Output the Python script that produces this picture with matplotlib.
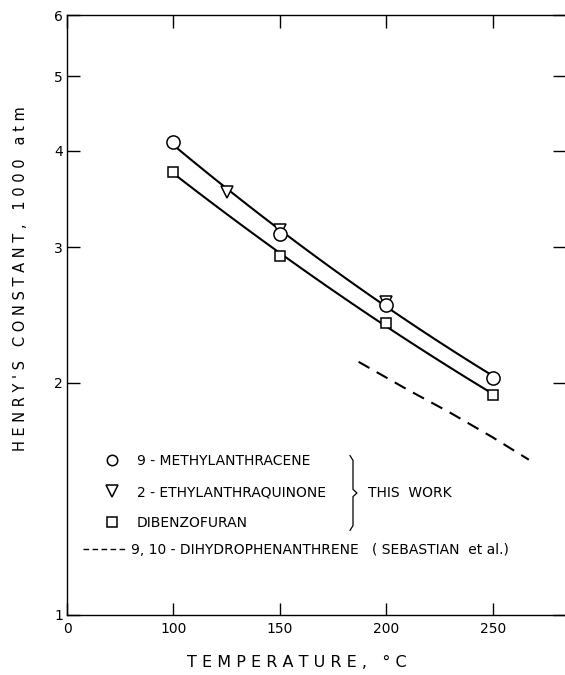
import numpy as np
import matplotlib
matplotlib.use("Agg")
import matplotlib.pyplot as plt
from matplotlib.lines import Line2D

plt.rcParams["font.family"] = ["DejaVu Sans"]

# data (temperature in C, Henry's constant in 1000 atm)
methyl_t = [100, 150, 200, 250]
methyl_h = [4.11, 3.12, 2.52, 2.03]
ethyl_t = [125, 150, 200]
ethyl_h = [3.54, 3.16, 2.55]
dibenz_t = [100, 150, 200, 250]
dibenz_h = [3.75, 2.92, 2.39, 1.93]
sebastian_t = [187, 210, 230, 250, 267]
sebastian_h = [2.13, 1.96, 1.83, 1.70, 1.59]

y_ticks = [1, 2, 3, 4, 5, 6]
x_ticks = [50, 100, 150, 200, 250]
x_tick_labels = ["0", "100", "150", "200", "250"]  # axis is broken between 0 and 100

fig = plt.figure(figsize=(5.65, 6.75), dpi=100)
ax = fig.add_axes([67 / 565, 60 / 675, 498 / 565, 600 / 675])

# smooth curves through the points (quadratic in log space)
t_top = np.array(methyl_t + ethyl_t, dtype=float)
h_top = np.log(np.array(methyl_h + ethyl_h))
c_top = np.polyfit(t_top, h_top, 2)
c_bot = np.polyfit(dibenz_t, np.log(dibenz_h), 2)
tt = np.linspace(100, 250, 100)
ax.plot(tt, np.exp(np.polyval(c_top, tt)), color="black", lw=1.5, zorder=2)
ax.plot(tt, np.exp(np.polyval(c_bot, tt)), color="black", lw=1.5, zorder=2)

ax.plot(sebastian_t, sebastian_h, color="black", lw=1.5, dashes=(6, 4), zorder=2)

mk = dict(linestyle="none", markerfacecolor="white", markeredgecolor="black",
          markeredgewidth=1.1)
ax.plot(ethyl_t, ethyl_h, marker="v", markersize=9, zorder=3, **mk)
ax.plot(methyl_t, methyl_h, marker="o", markersize=9.5, zorder=4, **mk)
ax.plot(dibenz_t, dibenz_h, marker="s", markersize=7, zorder=4, **mk)

ax.set_yscale("log")
ax.set_ylim(1, 6)
ax.set_xlim(50, 284)
ax.yaxis.set_major_locator(matplotlib.ticker.FixedLocator(y_ticks))
ax.yaxis.set_major_formatter(matplotlib.ticker.FixedFormatter([str(v) for v in y_ticks]))
ax.yaxis.set_minor_locator(matplotlib.ticker.NullLocator())
ax.set_xticks(x_ticks)
ax.set_xticklabels(x_tick_labels)

ax.tick_params(axis="both", which="major", direction="in", length=9, width=1.0,
               labelsize=10, top=True, right=True, pad=5)
ax.tick_params(axis="y", pad=3)
ax.spines["right"].set_visible(False)
for s in ["left", "bottom", "top"]:
    ax.spines[s].set_linewidth(1.0)

ax.set_xlabel("T E M P E R A T U R E ,   ° C", fontsize=11.5)
ax.xaxis.set_label_coords(0.462, -0.066)
ax.set_ylabel("H E N R Y ' S   C O N S T A N T ,   1 0 0 0   a t m", fontsize=10.5)
ax.yaxis.set_label_coords(-0.078, 0.56)

# legend for this work
leg_font = 10
h1 = Line2D([], [], marker="o", markersize=7.5, **mk)
h2 = Line2D([], [], marker="v", markersize=8, **mk)
h3 = Line2D([], [], marker="s", markersize=6.5, **mk)
leg1 = ax.legend([h1, h2, h3],
                 ["9 - METHYLANTHRACENE", "2 - ETHYLANTHRAQUINONE", "DIBENZOFURAN"],
                 loc="upper left", bbox_to_anchor=(0.065, 0.277), frameon=False,
                 fontsize=leg_font, handlelength=1.0, handletextpad=1.3,
                 labelspacing=1.2, borderaxespad=0)
ax.add_artist(leg1)

# brace + THIS WORK
bx = (353 - 67) / 498
ytop, ymid, ybot = (615 - 458) / 600, (615 - 493) / 600, (615 - 528) / 600
brace_x = [bx - 0.006, bx, bx, bx + 0.008, bx, bx, bx - 0.006]
brace_y = [ytop + 0.004, ytop - 0.004, ymid + 0.006, ymid, ymid - 0.006, ybot + 0.004, ybot - 0.004]
ax.plot(brace_x, brace_y, color="black", lw=0.9, transform=ax.transAxes)
ax.text(bx + 0.03, ymid, "THIS  WORK", transform=ax.transAxes, fontsize=leg_font,
        va="center", ha="left")

h4 = Line2D([], [], color="black", lw=1.0, dashes=(4, 2.5))
ax.legend([h4], ["9, 10 - DIHYDROPHENANTHRENE   ( SEBASTIAN  et al.)"],
          loc="center left", bbox_to_anchor=(0.02, (615 - 550) / 600), frameon=False,
          fontsize=leg_font, handlelength=3.3, handletextpad=0.2, borderaxespad=0)

fig.savefig("out.png", dpi=100)
